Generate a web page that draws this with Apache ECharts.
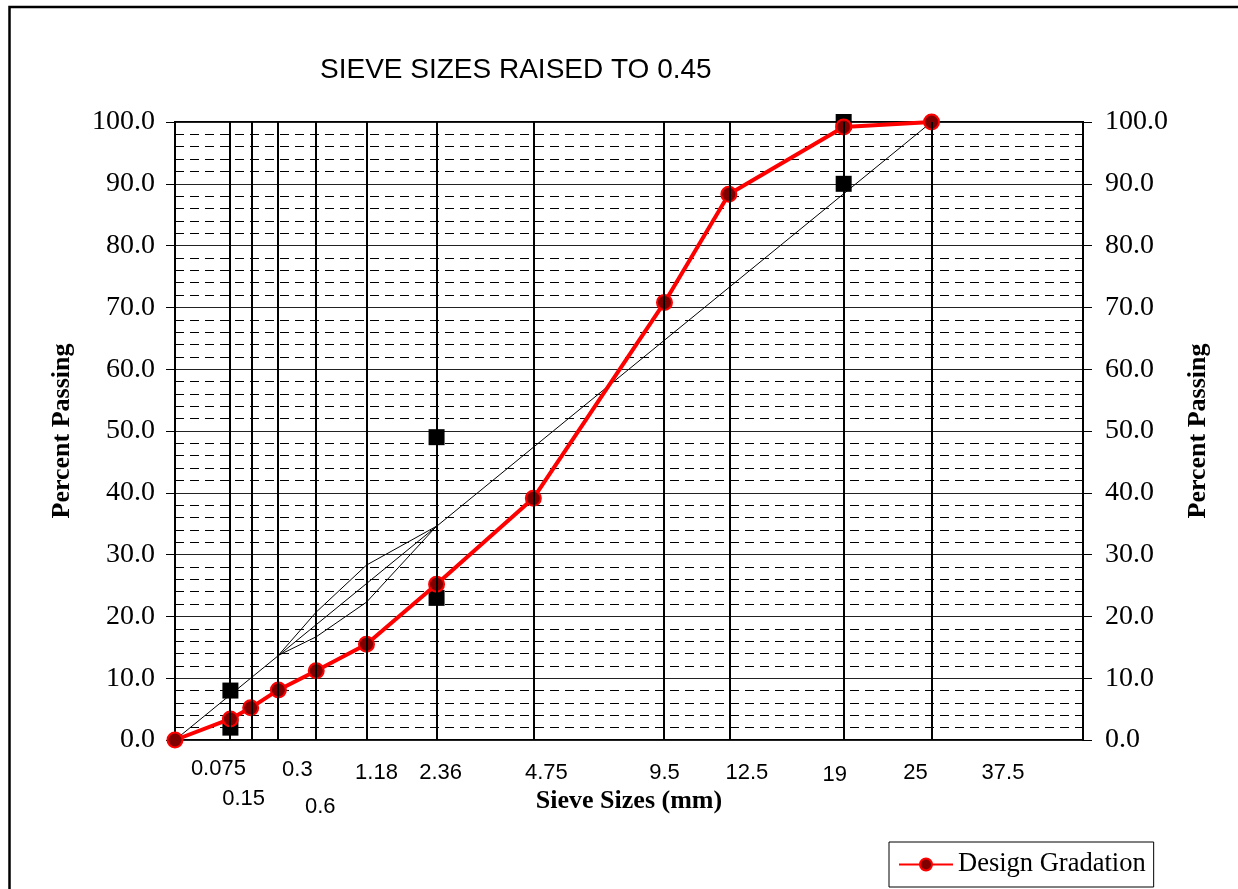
<!DOCTYPE html>
<html>
<head>
<meta charset="utf-8">
<script src="https://cdn.jsdelivr.net/npm/echarts@6/dist/echarts.min.js"></script>
<style>
html,body{margin:0;padding:0;background:#fff;}
#chart{width:1238px;height:889px;}
</style>
</head>
<body>
<div id="chart"></div>
<script>
// ---- data ----
const EXPONENT = 0.45;
const xMaxSieve = 37.5;
const sieveLines = [0.075, 0.15, 0.3, 0.6, 1.18, 2.36, 4.75, 9.5, 12.5, 19, 25];
const tickSizes = [0.075, 0.15, 0.3, 0.6, 1.18, 2.36, 4.75, 9.5, 12.5, 19, 25, 37.5];
const tickLabels = ['0.075', '0.15', '0.3', '0.6', '1.18', '2.36', '4.75', '9.5', '12.5', '19', '25', '37.5'];
const designSizes = [0, 0.075, 0.15, 0.3, 0.6, 1.18, 2.36, 4.75, 9.5, 12.5, 19, 25];
const designPassing = [0, 3.4, 5.2, 8.1, 11.2, 15.5, 25.2, 39.1, 70.8, 88.3, 99.2, 100];
const controlSizes = [0.075, 0.075, 2.36, 2.36, 19, 19];
const controlPassing = [2, 8, 23, 49, 90, 100];
const maxDensitySizes = [0, 25];
const maxDensityPassing = [0, 100];
const rzSizes = [0.3, 0.6, 1.18, 2.36];
const rzLower = [13.7, 16.7, 22.3, 34.6];
const rzUpper = [13.7, 20.7, 28.3, 34.6];

// ---- styling (label offsets in px) ----
const tickLabelOffsets = [[-12, 29], [-7, 59], [19, 30], [4, 67], [10, 33], [4, 33], [13, 33], [0, 33], [18, 33], [-9, 35], [-16, 33], [-80, 33]];
const tickLabelStyle = {fontFamily: 'Liberation Sans', fontSize: 22, color: '#000'};

const tx = s => Math.pow(s, EXPONENT);
const pts = (xs, ys) => xs.map((s, i) => [tx(s), ys[i]]);

const chart = echarts.init(document.getElementById('chart'), null, {renderer: 'canvas'});

const yAxisBase = {
  type: 'value', min: 0, max: 100, interval: 10,
  axisLine: {show: true, lineStyle: {color: '#000', width: 2}},
  axisTick: {show: true, length: 9, lineStyle: {color: '#000', width: 1}},
  axisLabel: {formatter: v => v.toFixed(1), fontFamily: 'Liberation Serif', fontSize: 28, color: '#000', margin: 20},
  name: 'Percent Passing', nameLocation: 'middle',
  nameTextStyle: {fontFamily: 'Liberation Serif', fontWeight: 'bold', fontSize: 26, color: '#000'}
};

chart.setOption({
  animation: false,
  backgroundColor: '#fff',
  title: {
    text: 'SIEVE SIZES RAISED TO 0.45', left: 320, top: 56, padding: 0,
    textStyle: {fontFamily: 'Liberation Sans', fontWeight: 'normal', fontSize: 28, color: '#000'}
  },
  graphic: [{
    type: 'rect', shape: {x: 9.5, y: 7, width: 1260, height: 920},
    style: {fill: null, stroke: '#000', lineWidth: 2.5}, silent: true, z: -10
  }],
  legend: {
    data: ['Design Gradation'], left: 889, top: 842,
    borderColor: '#000', borderWidth: 1, padding: [9, 8, 9, 9],
    itemWidth: 54, itemHeight: 15, itemGap: 5,
    textStyle: {fontFamily: 'Liberation Serif', fontSize: 26.5, color: '#000'}
  },
  grid: {left: 175, top: 122, width: 908, height: 618, show: true, borderColor: '#000', borderWidth: 2, backgroundColor: '#fff'},
  xAxis: {
    type: 'value', min: 0, max: tx(xMaxSieve),
    axisLine: {show: false}, axisTick: {show: false}, axisLabel: {show: false}, splitLine: {show: false},
    name: 'Sieve Sizes (mm)', nameLocation: 'middle', nameGap: 48,
    nameTextStyle: {fontFamily: 'Liberation Serif', fontWeight: 'bold', fontSize: 26, color: '#000'}
  },
  yAxis: [
    Object.assign({}, yAxisBase, {
      position: 'left', nameGap: 100,
      splitLine: {show: true, lineStyle: {color: '#222', width: 1}},
      minorTick: {show: false, splitNumber: 5},
      minorSplitLine: {show: true, lineStyle: {color: '#000', width: 1, type: [9, 6]}}
    }),
    Object.assign({}, yAxisBase, {
      position: 'right', nameGap: 102, nameRotate: 90,
      axisLabel: Object.assign({}, yAxisBase.axisLabel, {margin: 22}),
      splitLine: {show: false}
    })
  ],
  series: [
    {
      name: 'sieves', type: 'line', data: [], silent: true, z: 1,
      markLine: {
        silent: true, symbol: ['none', 'none'], label: {show: false},
        lineStyle: {color: '#000', width: 2, type: 'solid'},
        data: sieveLines.map(s => ({xAxis: tx(s)}))
      }
    },
    {
      name: 'Maximum Density', type: 'line', data: pts(maxDensitySizes, maxDensityPassing),
      symbol: 'none', lineStyle: {color: '#000', width: 1}, silent: true, z: 2
    },
    {
      name: 'RZ Lower', type: 'line', data: pts(rzSizes, rzLower),
      symbol: 'none', lineStyle: {color: '#000', width: 1}, silent: true, z: 2
    },
    {
      name: 'RZ Upper', type: 'line', data: pts(rzSizes, rzUpper),
      symbol: 'none', lineStyle: {color: '#000', width: 1}, silent: true, z: 2
    },
    {
      name: 'Control Points', type: 'scatter', data: pts(controlSizes, controlPassing),
      symbol: 'rect', symbolSize: 16, itemStyle: {color: '#000', opacity: 1}, silent: true, z: 3
    },
    {
      name: 'Design Gradation', type: 'line', data: pts(designSizes, designPassing),
      symbol: 'circle', symbolSize: 15, showAllSymbol: true,
      lineStyle: {color: '#ff0000', width: 4},
      itemStyle: {color: '#800000', borderColor: '#ff0000', borderWidth: 2},
      silent: true, z: 4
    },
    {
      name: 'tickLabels', type: 'scatter', silent: true, z: 5,
      symbol: 'circle', symbolSize: 1, itemStyle: {color: 'rgba(0,0,0,0)', opacity: 1},
      label: Object.assign({show: true, position: 'inside'}, tickLabelStyle),
      data: tickSizes.map((s, i) => ({
        value: [tx(s), 0],
        label: Object.assign({show: true, position: 'inside', offset: tickLabelOffsets[i], formatter: tickLabels[i]}, tickLabelStyle)
      }))
    }
  ]
});
</script>
</body>
</html>
